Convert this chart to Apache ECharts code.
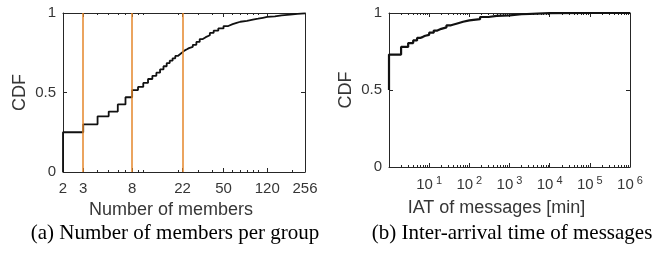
<!DOCTYPE html>
<html>
<head>
<meta charset="utf-8">
<script src="https://cdn.jsdelivr.net/npm/echarts@6/dist/echarts.min.js"></script>
<style>
  html, body { margin: 0; padding: 0; background: #fff; }
  #main { width: 665px; height: 253px; }
</style>
</head>
<body>
<div id="main"></div>
<script>
// (a) 群组人数 CDF
var membersX = [2, 2, 3, 4, 5, 6, 7, 8, 9, 10, 11, 12, 13, 14, 15, 16, 17, 18, 19, 20, 21, 22, 23, 24, 25, 27, 29, 31, 33, 35, 38, 41, 45, 50, 55, 60, 65, 70, 80, 90, 100, 110, 120, 140, 160, 190, 220, 256];
var membersCdf = [0, 0.25, 0.30, 0.35, 0.38, 0.425, 0.47, 0.515, 0.535, 0.56, 0.585, 0.605, 0.625, 0.645, 0.665, 0.685, 0.70, 0.715, 0.73, 0.742, 0.754, 0.765, 0.772, 0.779, 0.787, 0.80, 0.818, 0.836, 0.848, 0.86, 0.875, 0.889, 0.903, 0.918, 0.93, 0.938, 0.945, 0.95, 0.958, 0.964, 0.97, 0.975, 0.979, 0.985, 0.99, 0.995, 0.998, 1];
var membersLabels = [2, 3, 8, 22, 50, 120, 256];
var membersMinor = [4, 5, 6, 7, 9, 10, 20, 30, 40, 60, 70, 80, 90, 100, 200];
var markedSizes = [3, 8, 22];

// (b) 消息间隔 CDF
var iatX = [1, 1, 2, 3, 4, 5, 6, 7, 8, 10, 13, 16, 20, 27, 35, 50, 70, 100, 185, 300, 480, 1000, 2000, 5000, 10000, 100000, 1000000];
var iatCdf = [0.5, 0.73, 0.78, 0.805, 0.822, 0.838, 0.845, 0.852, 0.858, 0.872, 0.886, 0.897, 0.907, 0.92, 0.932, 0.943, 0.952, 0.96, 0.974, 0.981, 0.985, 0.992, 0.996, 0.999, 1, 1, 1];
var iatLabels = [10, 100, 1000, 10000, 100000, 1000000];
var iatMinor = [2, 3, 4, 5, 6, 7, 8, 9, 20, 30, 40, 50, 60, 70, 80, 90, 200, 300, 400, 500, 600, 700, 800, 900,
  2000, 3000, 4000, 5000, 6000, 7000, 8000, 9000, 20000, 30000, 40000, 50000, 60000, 70000, 80000, 90000,
  200000, 300000, 400000, 500000, 600000, 700000, 800000, 900000];

var axisColor = '#262626';
var textColor = '#363636';
var sans = 'Liberation Sans';

function pairs(xs, ys) {
  return xs.map(function (x, i) { return [x, ys[i]]; });
}

function boxAxis(grid, base, min, max, pos, ticks, len, line) {
  return {
    gridIndex: grid, type: 'log', logBase: base, min: min, max: max, position: pos,
    axisLine: { show: line, lineStyle: { color: axisColor, width: 1 } },
    axisTick: { show: true, inside: true, length: len, customValues: ticks, lineStyle: { color: axisColor } },
    axisLabel: { show: false },
    splitLine: { show: false }
  };
}

function yAxisOf(grid, pos, labels) {
  return {
    gridIndex: grid, type: 'value', min: 0, max: 1, interval: 0.5, position: pos,
    axisLine: { show: true, lineStyle: { color: axisColor, width: 1 } },
    axisTick: { show: true, inside: true, length: 4, lineStyle: { color: axisColor } },
    axisLabel: { show: labels, color: textColor, fontFamily: sans, fontSize: 15, margin: 7 },
    splitLine: { show: false },
    name: labels ? 'CDF' : '',
    nameLocation: 'middle',
    nameGap: 34,
    nameTextStyle: { color: textColor, fontFamily: sans, fontSize: 18 }
  };
}

var chart = echarts.init(document.getElementById('main'));
chart.setOption({
  animation: false,
  backgroundColor: '#fff',
  title: [{
    text: '(a) Number of members per group',
    left: 170, top: 218, textAlign: 'center',
    textStyle: { fontFamily: 'Liberation Serif', fontWeight: 'normal', fontSize: 21, color: '#000' }
  }, {
    text: '(b) Inter-arrival time of messages',
    left: 507, top: 218, textAlign: 'center',
    textStyle: { fontFamily: 'Liberation Serif', fontWeight: 'normal', fontSize: 21, color: '#000' }
  }],
  grid: [
    { left: 63, top: 13, width: 242, height: 159 },
    { left: 389, top: 13, width: 241, height: 154 }
  ],
  xAxis: [
    {
      gridIndex: 0, type: 'log', logBase: 2, min: 2, max: 256, position: 'bottom',
      axisLine: { show: true, lineStyle: { color: axisColor, width: 1 } },
      axisTick: { show: true, inside: true, length: 4, customValues: membersLabels, lineStyle: { color: axisColor } },
      axisLabel: { show: true, customValues: membersLabels, color: textColor, fontFamily: sans, fontSize: 15, margin: 9 },
      splitLine: { show: false },
      name: 'Number of members', nameLocation: 'middle', nameGap: 27,
      nameTextStyle: { color: textColor, fontFamily: sans, fontSize: 18, padding: [0, 26, 0, 0] }
    },
    boxAxis(0, 2, 2, 256, 'bottom', membersMinor, 2, false),
    boxAxis(0, 2, 2, 256, 'top', membersLabels, 4, true),
    boxAxis(0, 2, 2, 256, 'top', membersMinor, 2, false),
    {
      gridIndex: 1, type: 'log', logBase: 10, min: 1, max: 1000000, position: 'bottom',
      axisLine: { show: true, lineStyle: { color: axisColor, width: 1 } },
      axisTick: { show: true, inside: true, length: 4, customValues: iatLabels, lineStyle: { color: axisColor } },
      axisLabel: {
        show: true, customValues: iatLabels, color: textColor, fontFamily: sans, fontSize: 15, margin: 8,
        formatter: function (v) {
          return '{b|10}{s|' + Math.round(Math.log10(v)) + '}';
        },
        rich: {
          b: { fontFamily: sans, fontSize: 15, color: textColor, lineHeight: 20 },
          s: { fontFamily: sans, fontSize: 11, color: textColor, lineHeight: 11, verticalAlign: 'top', padding: [0, 0, 0, 3] }
        }
      },
      splitLine: { show: false },
      name: 'IAT of messages [min]', nameLocation: 'middle', nameGap: 32,
      nameTextStyle: { color: textColor, fontFamily: sans, fontSize: 18, padding: [0, 26, 0, 0] }
    },
    boxAxis(1, 10, 1, 1000000, 'bottom', iatMinor, 2, false),
    boxAxis(1, 10, 1, 1000000, 'top', iatLabels, 4, true),
    boxAxis(1, 10, 1, 1000000, 'top', iatMinor, 2, false)
  ],
  yAxis: [
    yAxisOf(0, 'left', true),
    yAxisOf(0, 'right', false),
    yAxisOf(1, 'left', true),
    yAxisOf(1, 'right', false)
  ],
  series: [{
    type: 'line',
    xAxisIndex: 0, yAxisIndex: 0,
    step: 'end',
    showSymbol: false,
    lineStyle: { color: '#111', width: 1.8 },
    data: pairs(membersX, membersCdf),
    markLine: {
      silent: true,
      symbol: 'none',
      label: { show: false },
      lineStyle: { color: '#e5862a', width: 1.5, type: 'solid' },
      data: markedSizes.map(function (v) { return { xAxis: v }; })
    }
  }, {
    type: 'line',
    xAxisIndex: 4, yAxisIndex: 2,
    step: 'end',
    showSymbol: false,
    lineStyle: { color: '#111', width: 2.2 },
    data: pairs(iatX, iatCdf)
  }]
});
</script>
</body>
</html>
